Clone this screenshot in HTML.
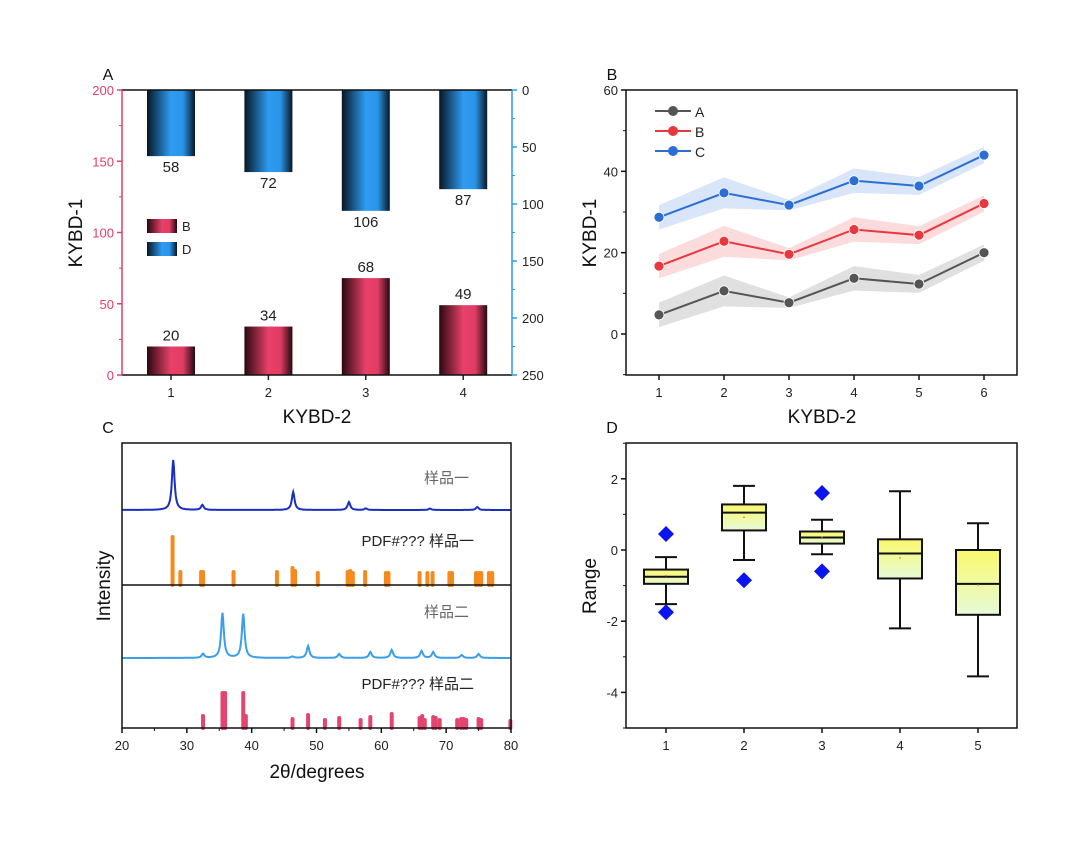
<!DOCTYPE html>
<html><head><meta charset="utf-8"><style>
body{margin:0;background:#fff;width:1080px;height:847px;overflow:hidden}
svg text{font-family:"Liberation Sans","Noto Sans CJK SC",sans-serif}
</style></head><body>
<svg id="s" width="1080" height="847" viewBox="0 0 1080 847">
<defs>
<linearGradient id="gr" x1="0" x2="1"><stop offset="0" stop-color="#2a0810"/><stop offset="0.5" stop-color="#e8416a"/><stop offset="0.75" stop-color="#e03c64"/><stop offset="1" stop-color="#250810"/></linearGradient>
<linearGradient id="gb" x1="0" x2="1"><stop offset="0" stop-color="#081624"/><stop offset="0.5" stop-color="#2e9cf2"/><stop offset="0.75" stop-color="#2a94e8"/><stop offset="1" stop-color="#081624"/></linearGradient>
<linearGradient id="gy" x1="0" y1="0" x2="0" y2="1"><stop offset="0" stop-color="#fbf86a"/><stop offset="1" stop-color="#e6fbd8"/></linearGradient>
</defs>
</svg>
<script>
// Panel A data
const catsA=[1,2,3,4];
const valsB=[20,34,68,49];
const valsD=[58,72,106,87];
// Panel B data
const catsB=[1,2,3,4,5,6];
const serA=[4.7,10.6,7.7,13.7,12.3,20.0];
const serB=[16.7,22.8,19.6,25.7,24.3,32.1];
const serC=[28.7,34.7,31.7,37.7,36.4,44.0];
const errA=[3.0,3.8,1.3,3.0,2.2,2.0];
const errB=[3.0,3.8,1.5,3.0,2.2,2.0];
const errC=[3.0,3.8,1.3,3.0,2.2,2.0];
// Panel C data
const s1Pos=[27.9,32.4,46.4,55.0,57.6,67.5,74.8];
const s1H=[50,5,18,8,1.5,1.5,3];
const ref1Pos=[27.8,29.0,32.2,32.5,37.2,43.9,46.3,46.7,50.2,54.8,55.2,55.6,57.5,60.7,61.1,65.9,67.1,67.9,70.5,70.9,74.6,75.0,75.4,76.6,77.1];
const ref1H=[48,13,13,13,13,13,17,14,12,13,14,12,13,12,12,12,12,12,12,12,12,12,12,12,12];
const s2Pos=[32.5,35.5,38.7,46.3,48.7,53.5,58.3,61.6,66.2,68.0,72.4,75.0];
const s2H=[4,45,44,1.5,12,4,6,8,7,6,3,4];
const ref2Pos=[32.5,35.5,35.9,38.7,39.1,46.3,48.7,51.3,53.5,56.8,58.3,61.6,65.9,66.3,66.7,68.0,68.4,69.0,71.7,72.3,72.7,73.1,75.0,75.4,79.9];
const ref2H=[12,35,35,35,12,9,13,8,10,8,11,14,10,12,8,11,10,8,8,9,9,8,9,8,7];
const ticksC=[20,30,40,50,60,70,80];
// Panel D data
const catsD=[1,2,3,4,5];
const whiHi=[-0.2,1.8,0.85,1.65,0.75];
const q3=[-0.55,1.28,0.52,0.3,0.0];
const med=[-0.75,1.05,0.35,-0.1,-0.95];
const q1=[-0.95,0.55,0.18,-0.8,-1.82];
const whiLo=[-1.52,-0.28,-0.12,-2.2,-3.55];
const meanD=[-0.72,0.92,0.36,-0.22,-0.98];
const outX=[1,1,2,3,3];
const outY=[0.45,-1.75,-0.85,1.6,-0.6];

const svg=document.getElementById('s');const NS='http://www.w3.org/2000/svg';
function el(t,a,txt,p){const e=document.createElementNS(NS,t);for(const k in a)e.setAttribute(k,a[k]);if(txt!==undefined)e.textContent=txt;(p||svg).appendChild(e);return e;}
function txt(x,y,s,size,anchor,fill,name,rot){const e=el('text',{x:x,y:y,'font-size':size,'text-anchor':anchor||'middle',fill:fill||'#222'},s);if(rot)e.setAttribute('transform','rotate(-90 '+x+' '+y+')');

return e;}
function line(x1,y1,x2,y2,c,w,name){const e=el('line',{x1,y1,x2,y2,stroke:c,'stroke-width':w});

return e;}

// ===== Panel A =====
const AX0=122,AX1=512,AY0=90,AY1=375;
const axA=c=>171+(c-1)*97.4;
const yL=v=>AY1-v/200*(AY1-AY0);
const yR=v=>AY0+v/250*(AY1-AY0);
txt(108,80,'A',16,'middle','#111','panel-a-label');
catsA.forEach((c,i)=>{
 const x=axA(c);
 const b=el('rect',{x:x-24,y:yL(valsB[i]),width:48,height:AY1-yL(valsB[i]),fill:'url(#gr)'});
 
 
 txt(x,yL(valsB[i])-6,String(valsB[i]),15,'middle','#222','value-b-'+c);
 const d=el('rect',{x:x-24,y:AY0,width:48,height:yR(valsD[i])-AY0,fill:'url(#gb)'});
 
 
 txt(x,yR(valsD[i])+16,String(valsD[i]),15,'middle','#222','value-d-'+c);
 line(x,AY1,x,AY1+5,'#222',1.5,'x-tick');
 txt(x,AY1+22,String(c),13,'middle','#222','x-tick-label');
});
line(AX0,AY0,AX1,AY0,'#111',1.5,'top-axis');
line(AX0,AY1,AX1,AY1,'#111',1.5,'x-axis');
line(AX0,AY0,AX0,AY1,'#e0406a',1.5,'left-y-axis');
line(AX1,AY0,AX1,AY1,'#2a9af0',1.5,'right-y-axis');
[0,50,100,150,200].forEach(v=>{line(AX0-5,yL(v),AX0,yL(v),'#e0406a',1.5,'left-tick');txt(AX0-8,yL(v)+5,String(v),13,'end','#e0406a','left-tick-label');});
[25,75,125,175].forEach(v=>line(AX0-3,yL(v),AX0,yL(v),'#e0406a',1,'left-minor-tick'));
[0,50,100,150,200,250].forEach(v=>{line(AX1,yR(v),AX1+5,yR(v),'#2a9af0',1.5,'right-tick');txt(AX1+10,yR(v)+5,String(v),13,'start','#222','right-tick-label');});
[25,75,125,175,225].forEach(v=>line(AX1,yR(v),AX1+3,yR(v),'#2a9af0',1,'right-minor-tick'));
txt(82,233,'KYBD-1',19,'middle','#111','a-y-axis-title',true);
txt(317,423,'KYBD-2',19,'middle','#111','a-x-axis-title');
let r=el('rect',{x:147,y:219,width:30,height:14,fill:'url(#gr)'});
txt(182,231,'B',13,'start','#222','legend-label-b');
r=el('rect',{x:147,y:242,width:30,height:14,fill:'url(#gb)'});
txt(182,254,'D',13,'start','#222','legend-label-d');

// ===== Panel B =====
const BX0=626,BX1=1017,BY0=90,BY1=375;
const bx=c=>659+(c-1)*65;
const by=v=>334-v*(334-90)/60;
txt(612,80,'B',16,'middle','#111','panel-b-label');
const series=[[serA,errA,'#555','#555','a'],[serB,errB,'#e8383d','#f4a0a2','b'],[serC,errC,'#2b6fd6','#8db8ee','c']];
series.forEach(([s,e,c,fc,n])=>{
 let up=s.map((v,i)=>bx(catsB[i])+','+by(v+e[i])),lo=s.map((v,i)=>bx(catsB[i])+','+by(v-e[i])).reverse();
 const p=el('polygon',{points:up.concat(lo).join(' '),fill:c,'fill-opacity':0.18});
 
 
});
series.forEach(([s,e,c,fc,n])=>{
 const pl=el('polyline',{points:s.map((v,i)=>bx(catsB[i])+','+by(v)).join(' '),fill:'none',stroke:c,'stroke-width':2});
 
 
 s.forEach((v,i)=>{const m=el('circle',{cx:bx(catsB[i]),cy:by(v),r:5,fill:c,stroke:'#fff','stroke-width':0.8});
 
 });
});
el('rect',{x:BX0,y:BY0,width:BX1-BX0,height:BY1-BY0,fill:'none',stroke:'#111','stroke-width':1.5});
[0,20,40,60].forEach(v=>{line(BX0-5,by(v),BX0,by(v),'#111',1.5,'b-y-tick');txt(BX0-8,by(v)+5,String(v),13,'end','#222','b-y-tick-label');});
[-10,10,30,50].forEach(v=>line(BX0-3,by(v),BX0,by(v),'#111',1,'b-y-minor-tick'));
catsB.forEach(c=>{line(bx(c),BY1,bx(c),BY1+5,'#111',1.5,'b-x-tick');txt(bx(c),BY1+22,String(c),13,'middle','#222','b-x-tick-label');});
txt(596,233,'KYBD-1',19,'middle','#111','b-y-axis-title',true);
txt(822,423,'KYBD-2',19,'middle','#111','b-x-axis-title');
[['A','#555',111],['B','#e8383d',131],['C','#2b6fd6',151]].forEach(([n,c,y])=>{
 line(655,y,691,y,c,2,'legend-line-'+n);
 const m=el('circle',{cx:673,cy:y,r:5,fill:c});
 txt(695,y+6,n,14,'start','#222','legend-label-'+n);
});

// ===== Panel C =====
const CX0=122,CX1=511,CY0=443,CY1=728;
const cx=v=>CX0+(v-20)/60*(CX1-CX0);
txt(108,433,'C',16,'middle','#111','panel-c-label');
function curve(pos,h,base,wid,color,name){
 let pts=[];for(let t=20;t<=80.001;t+=0.1){let y=0;pos.forEach((p,i)=>{y+=h[i]/(1+((t-p)/wid)**2);});pts.push(cx(t).toFixed(1)+','+(base-y).toFixed(1));}
 const pl=el('polyline',{points:pts.join(' '),fill:'none',stroke:color,'stroke-width':2});
 
 
}
function sticks(pos,h,base,color,name){pos.forEach((p,i)=>{const e=el('line',{x1:cx(p),y1:base,x2:cx(p),y2:base-h[i],stroke:color,'stroke-width':4,'stroke-linecap':'round'});
 
 });}
curve(s1Pos,s1H,510,0.25,'#1a2fc0','sample-1-pattern');
sticks(ref1Pos,ref1H,585,'#f68a1e','reference-1-sticks');
curve(s2Pos,s2H,658,0.25,'#3a9ee8','sample-2-pattern');
sticks(ref2Pos,ref2H,728,'#e4456e','reference-2-sticks');
el('rect',{x:CX0,y:CY0,width:CX1-CX0,height:CY1-CY0,fill:'none',stroke:'#111','stroke-width':1.5});
line(CX0,585,CX1,585,'#111',1.5,'panel-divider');
ticksC.forEach(v=>{line(cx(v),CY1,cx(v),CY1+5,'#111',1.5,'c-x-tick');txt(cx(v),CY1+22,String(v),13,'middle','#222','c-x-tick-label');});
[25,35,45,55,65,75].forEach(v=>line(cx(v),CY1,cx(v),CY1+3,'#111',1,'c-x-minor-tick'));
txt(469,483,'样品一',15,'end','#666','sample-1-label');
txt(474,546,'PDF#??? 样品一',15,'end','#222','reference-1-label');
txt(469,617,'样品二',15,'end','#666','sample-2-label');
txt(474,689,'PDF#??? 样品二',15,'end','#222','reference-2-label');
txt(110,586,'Intensity',19,'middle','#111','c-y-axis-title',true);
txt(317,778,'2θ/degrees',19,'middle','#111','c-x-axis-title');

// ===== Panel D =====
const DX0=626,DX1=1017,DY0=443,DY1=728;
const dx=c=>666+(c-1)*78;
const dy=v=>550-v*35.6;
txt(612,433,'D',16,'middle','#111','panel-d-label');
catsD.forEach((c,i)=>{
 const x=dx(c);
 line(x,dy(whiHi[i]),x,dy(q3[i]),'#111',2,'whisker-upper');
 line(x,dy(q1[i]),x,dy(whiLo[i]),'#111',2,'whisker-lower');
 line(x-11,dy(whiHi[i]),x+11,dy(whiHi[i]),'#111',2,'whisker-cap');
 line(x-11,dy(whiLo[i]),x+11,dy(whiLo[i]),'#111',2,'whisker-cap');
 const b=el('rect',{x:x-22,y:dy(q3[i]),width:44,height:dy(q1[i])-dy(q3[i]),fill:'url(#gy)',stroke:'#111','stroke-width':2});
 
 
 line(x-22,dy(med[i]),x+22,dy(med[i]),'#111',2,'median-'+c);
 const m=el('circle',{cx:x,cy:dy(meanD[i]),r:0.8,fill:'#e85a3a'});
 line(x,DY1,x,DY1+5,'#111',1.5,'d-x-tick');txt(x,DY1+22,String(c),13,'middle','#222','d-x-tick-label');
});
outX.forEach((c,i)=>{const x=dx(c),y=dy(outY[i]);const d=el('polygon',{points:`${x},${y-8} ${x+8},${y} ${x},${y+8} ${x-8},${y}`,fill:'#0a14ee'});
 
 });
el('rect',{x:DX0,y:DY0,width:DX1-DX0,height:DY1-DY0,fill:'none',stroke:'#111','stroke-width':1.5});
[-4,-2,0,2].forEach(v=>{line(DX0-5,dy(v),DX0,dy(v),'#111',1.5,'d-y-tick');txt(DX0-8,dy(v)+5,String(v),13,'end','#222','d-y-tick-label');});
[-5,-3,-1,1,3].forEach(v=>line(DX0-3,dy(v),DX0,dy(v),'#111',1,'d-y-minor-tick'));
txt(596,586,'Range',19,'middle','#111','d-y-axis-title',true);
</script>
</body></html>
